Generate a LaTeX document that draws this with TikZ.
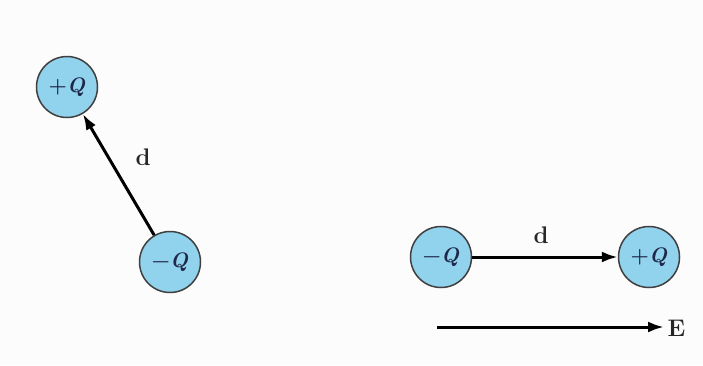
\documentclass[tikz,border=0pt]{standalone}
\usepackage{fontspec}
\usetikzlibrary{arrows.meta}
\definecolor{chargeblue}{RGB}{145,210,236}
\definecolor{bgcol}{RGB}{252,252,252}
\definecolor{txtcol}{RGB}{30,40,75}
\tikzset{
  charge/.style={circle, draw=black!75, line width=1.5pt, fill=chargeblue, minimum size=61pt, inner sep=0pt, text=txtcol, font=\fontsize{21}{21}\selectfont\bfseries},
  vec/.style={line width=3pt, -{Latex[length=16pt,width=11pt]}},
  lab/.style={font=\fontsize{24}{24}\selectfont\bfseries, text=black!85}
}
\begin{document}
\begin{tikzpicture}[x=1pt,y=-1pt]
\useasboundingbox[fill=bgcol] (0,0) rectangle (703,365);
\node[charge] (pl) at (67,87) {+\textit{Q}};
\node[charge] (ml) at (170,262) {−\textit{Q}};
\node[charge] (mr) at (441,257) {−\textit{Q}};
\node[charge] (pr) at (649,257) {+\textit{Q}};
\draw[vec] (ml) -- (pl);
\draw[vec] (mr) -- (pr);
\node[lab] (d1) at (143,157) {d};
\node[lab] (d2) at (541,235) {d};
\coordinate (es) at (437,327);
\node[lab, anchor=west] (E) at (664,328) {E};
\draw[vec] (es) -- (E.west |- es);
\end{tikzpicture}
\end{document}
